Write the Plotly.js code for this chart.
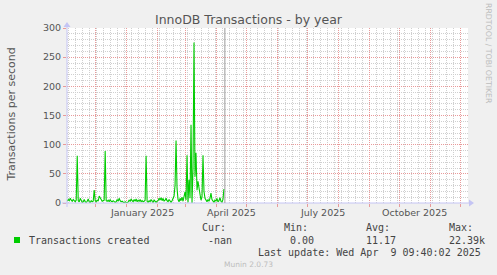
<!DOCTYPE html>
<html><head><meta charset="utf-8">
<script src="https://cdn.plot.ly/plotly-3.0.1.min.js"></script>
<style>html,body{margin:0;padding:0;background:#f0f0f0;}#chart{width:497px;height:275px;}</style>
</head><body><div id="chart"></div>
<script>
// ---- data ----
const startDate = [2024, 10, 2]; // 2 Nov 2024 (month 0-based)
const transactions = [
  3,6,4,8,5,3,6,4,2,5,81,4,2,8,3,1,2,6,2,1,3,7,2,1,4,2,3,22,4,          // Nov 2-30
  2,5,3,12,8,6,3,4,5,89,4,3,5,2,6,3,2,4,3,1,2,6,3,8,4,2,3,1,0,2,1,     // Dec
  0,2,5,3,7,4,2,6,3,7,2,5,3,6,2,4,2,3,5,81,3,1,4,2,6,3,1,5,2,1,3,      // Jan
  4,8,5,9,4,8,3,5,8,4,2,6,3,1,4,9,12,30,107,25,6,2,8,4,10,3,12,19,     // Feb
  5,82,1,40,8,134,0,60,275,45,86,22,37,20,15,5,10,82,20,8,4,2,6,3,8,17,6,2,1,5,3, // Mar
  8,2,4,9,3,1,6,24                                                      // Apr 1-8
];
const quarterLabels = ['January 2025', 'April 2025', 'July 2025', 'October 2025'];
const quarterLabelDates = ['2025-01-16', '2025-04-16', '2025-07-16', '2025-10-16'];
const lastUpdate = '2025-04-09 09:40:02';
const xRange = ['2024-11-02 06:00', '2025-12-09 00:00'];
const yRange = [0, 300];
const seriesName = 'Transactions created';
const statHeaders = ['Cur:', 'Min:', 'Avg:', 'Max:'];
const statValues = ['-nan', '0.00', '11.17', '22.39k'];
const lastUpdateText = 'Last update: Wed Apr  9 09:40:02 2025';

// ---- build ----
const pad = n => String(n).padStart(2, '0');
const dates = transactions.map((_, i) => {
  const d = new Date(Date.UTC(startDate[0], startDate[1], startDate[2] + i, 12));
  return d.getUTCFullYear() + '-' + pad(d.getUTCMonth() + 1) + '-' + pad(d.getUTCDate()) + ' 12:00';
});

const L = 67, R = 468, T = 28, B = 203, W = R - L, H = B - T;
const px = x => (x - L) / W, py = y => (B - y) / H;

const majorGrid = '#e99a9a';
const minorGrid = '#cfcfcf';
const axisCol = '#c4c4f4';
const textCol = '#555555';
const sans = 'DejaVu Sans';
const mono = 'DejaVu Sans Mono';
const gdash = '1px,1px';

const traces = [
  { x: dates, y: transactions, type: 'scatter', mode: 'lines', name: seriesName,
    line: { color: '#00cc00', width: 1.1 }, hoverinfo: 'skip', showlegend: false }
];

const ann = (text, x, y, opts) => Object.assign({
  text, xref: 'paper', yref: 'paper', x: px(x), y: py(y), xanchor: 'left', yanchor: 'middle',
  showarrow: false, font: { family: mono, size: 10, color: '#444' }
}, opts || {});

const statX = [200, 282, 364, 447];
const valX = [206, 288, 364, 447];
const annotations = [
  ann('Transactions per second', 10.5, 115, { xanchor: 'center', textangle: -90, font: { family: sans, size: 11, color: textCol } }),
  ann('RRDTOOL / TOBI OETIKER', 489, 53, { xanchor: 'center', textangle: 90, font: { family: sans, size: 7.8, color: '#bdbdbd' } }),
  ann(seriesName, 26.5, 240),
  ann(lastUpdateText, 483, 252, { xanchor: 'right' }),
  ann('Munin 2.0.73', 248, 264, { xanchor: 'center', font: { family: sans, size: 7.5, color: '#bdbdbd' } })
];
statHeaders.forEach((h, i) => annotations.push(ann(h, statX[i], 227.5)));
statValues.forEach((v, i) => annotations.push(ann(v, valX[i], 240)));
quarterLabels.forEach((t, i) => annotations.push({
  text: t, xref: 'x', yref: 'paper', x: quarterLabelDates[i], y: py(212.5), xanchor: 'center', yanchor: 'middle',
  showarrow: false, font: { family: sans, size: 9.5, color: textCol }
}));

const shapes = [
  { type: 'line', xref: 'paper', yref: 'paper', x0: px(62), x1: px(469), y0: 0, y1: 0, line: { color: axisCol, width: 1 } },
  { type: 'path', xref: 'paper', yref: 'paper', path: `M ${px(469)} ${py(199.5)} L ${px(474)} ${py(203)} L ${px(469)} ${py(206.5)} Z`, fillcolor: axisCol, line: { width: 0 } },
  { type: 'line', xref: 'paper', yref: 'paper', x0: 0, x1: 0, y0: py(207), y1: py(27), line: { color: axisCol, width: 1 } },
  { type: 'path', xref: 'paper', yref: 'paper', path: `M ${px(63.5)} ${py(27)} L ${px(67)} ${py(22)} L ${px(70.5)} ${py(27)} Z`, fillcolor: axisCol, line: { width: 0 } },
  { type: 'line', xref: 'x', yref: 'paper', x0: lastUpdate, x1: lastUpdate, y0: 0, y1: 1, line: { color: '#999999', width: 1 } },
  { type: 'rect', xref: 'paper', yref: 'paper', x0: px(14), x1: px(20), y0: py(243), y1: py(237), fillcolor: '#00cc00', line: { width: 0 } }
];

const layout = {
  width: 497, height: 275,
  margin: { l: L, r: 497 - R, t: T, b: 275 - B, pad: 0 },
  paper_bgcolor: '#f0f0f0', plot_bgcolor: '#ffffff',
  showlegend: false,
  title: { text: 'InnoDB Transactions - by year', font: { family: sans, size: 12.5, color: textCol },
           xref: 'container', x: 0.5, xanchor: 'center', yref: 'container', y: 1 - 20 / 275, yanchor: 'middle' },
  xaxis: {
    type: 'date', range: xRange, tickmode: 'linear', tick0: '2024-12-01', dtick: 'M1',
    showticklabels: false, ticks: 'outside', ticklen: 3, tickcolor: majorGrid, tickwidth: 1,
    showgrid: true, gridcolor: majorGrid, griddash: gdash, gridwidth: 1,
    minor: { tickmode: 'linear', dtick: 604800000, tick0: '2024-11-04', showgrid: true, gridcolor: minorGrid, griddash: gdash, gridwidth: 1 },
    zeroline: false, showline: false, fixedrange: true
  },
  yaxis: {
    range: yRange, tickmode: 'linear', tick0: 0, dtick: 50,
    ticks: 'outside', ticklen: 3, tickcolor: majorGrid, tickwidth: 1,
    showgrid: true, gridcolor: majorGrid, griddash: gdash, gridwidth: 1,
    minor: { tickmode: 'linear', tick0: 0, dtick: 10, showgrid: true, gridcolor: minorGrid, griddash: gdash, gridwidth: 1 },
    zeroline: false, showline: false, fixedrange: true,
    tickfont: { family: sans, size: 9.5, color: textCol }
  },
  shapes, annotations
};

Plotly.newPlot('chart', traces, layout, { displayModeBar: false, staticPlot: true });
</script>
</body></html>
